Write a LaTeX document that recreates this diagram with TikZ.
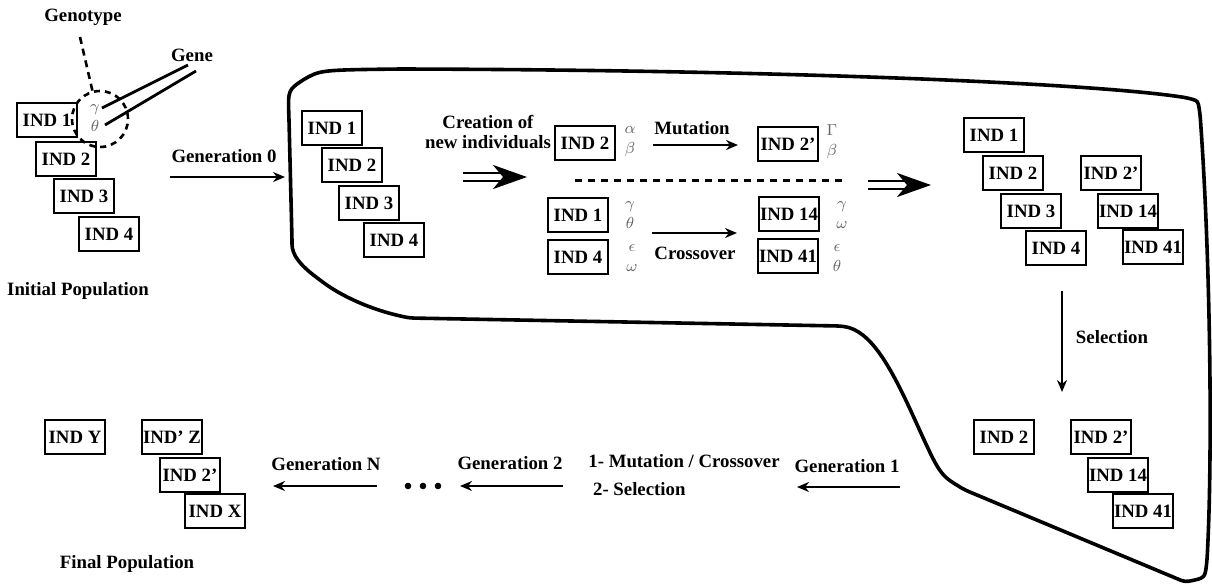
\documentclass[tikz,border=0pt]{standalone}
\usepackage{fontspec}
\setmainfont{Liberation Serif}
\usepackage{tikz}
\usetikzlibrary{arrows.meta}

\tikzset{
  every node/.style={font=\fontsize{9.4}{10}\selectfont\bfseries, inner sep=1pt},
  ind/.style={draw, line width=1pt, minimum width=30pt, minimum height=17pt, inner sep=0.5pt},
  greek/.style={text=gray!80!black, font=\fontsize{8.5}{10}\selectfont, align=center, inner sep=0pt},
  arr/.style={line width=1.4pt, -{Stealth[length=6pt,width=5pt]}},
  dblarr/.style={double, double distance=2.6pt, line width=1.3pt, -{Stealth[length=17pt,width=12pt,inset=5pt]}},
  blob/.style={line width=1.8pt, rounded corners=2pt}
}

\begin{document}
\begin{tikzpicture}[x=0.5pt, y=-0.5pt]
 \useasboundingbox (0,0) rectangle (1212,585);

 % outline of one generation
 \draw[blob] (303,80) .. controls (320,70) .. (400,69) .. controls (800,70) and (1100,84) .. (1188,98)
   .. controls (1198,101) .. (1200,114) .. controls (1210,250) and (1213,450) .. (1207,560)
   .. controls (1205,578) .. (1185,582) -- (965,490) .. controls (940,475) .. (915,420)
   .. controls (890,365) and (870,330) .. (840,326) -- (410,318)
   .. controls (370,310) and (340,295) .. (320,280) .. controls (300,265) and (292,255) .. (292,240)
   -- (289,120) .. controls (288,90) .. (303,80);

 % initial population
 \node[ind] (p0i1) at (47,120) {IND 1};
 \node[ind] (p0i2) at (66,159) {IND 2};
 \node[ind] (p0i3) at (84,196) {IND 3};
 \node[ind] (p0i4) at (109,234) {IND 4};
 \node[greek] (p0g) at (95,118) {$\gamma$\\$\theta$};
 \node[draw, circle, line width=1.3pt, dash pattern=on 3pt off 2.5pt, minimum size=28pt] (gtype) at (100,119) {};
 \node (genotype) at (83,17) {Genotype};
 \node (gene) at (192,55) {Gene};
 \node (initpop) at (78,291) {Initial Population};
 \coordinate (gt) at (80,37);
 \coordinate (ga1) at (102,108); \coordinate (gb1) at (188,65);
 \coordinate (ga2) at (105,125); \coordinate (gb2) at (196,71);
 \draw[line width=1.3pt, dash pattern=on 3.5pt off 2.5pt] (gt) -- (gtype.105);
 \draw[line width=1.4pt] (ga1) -- (gb1);
 \draw[line width=1.4pt] (ga2) -- (gb2);

 \node (gen0) at (224,156) {Generation 0};
 \coordinate (g0a) at (170,177); \coordinate (g0b) at (285,177);
 \draw[arr] (g0a) -- (g0b);

 % parents
 \node[ind] (p1i1) at (332,128) {IND 1};
 \node[ind] (p1i2) at (352,165) {IND 2};
 \node[ind] (p1i3) at (369,203) {IND 3};
 \node[ind] (p1i4) at (394,240) {IND 4};

 \node[align=center] (creation) at (488,132) {Creation of\\new individuals};
 \coordinate (d1a) at (463,177); \coordinate (d1b) at (527,177);
 \draw[dblarr] (d1a) -- (d1b);

 % mutation
 \node[ind] (mi2) at (585,143) {IND 2};
 \node[greek] (mg1) at (630,142) {$\alpha$\\$\beta$};
 \node[ind] (mi2b) at (788,144) {IND 2’};
 \node[greek] (mg2) at (832,142) {$\Gamma$\\$\beta$};
 \node (mutation) at (692,128) {Mutation};
 \coordinate (ma) at (653,145); \coordinate (mb) at (738,145);
 \draw[arr] (ma) -- (mb);

 \coordinate (sepa) at (575,180); \coordinate (sepb) at (843,180);
 \draw[line width=1.5pt, dash pattern=on 3.5pt off 3pt] (sepa) -- (sepb);

 % crossover
 \node[ind] (ci1) at (578,215) {IND 1};
 \node[greek] (cg1) at (630,215) {$\gamma$\\$\theta$};
 \node[ind] (ci4) at (578,257) {IND 4};
 \node[greek] (cg4) at (632,258) {$\epsilon$\\$\omega$};
 \node[ind] (ci14) at (789,214) {IND 14};
 \node[greek] (cg14) at (842,215) {$\gamma$\\$\omega$};
 \node[ind] (ci41) at (788,256) {IND 41};
 \node[greek] (cg41) at (837,258) {$\epsilon$\\$\theta$};
 \node (crossover) at (695,253) {Crossover};
 \coordinate (ca) at (652,233); \coordinate (cb) at (737,233);
 \draw[arr] (ca) -- (cb);

 \coordinate (d2a) at (868,185); \coordinate (d2b) at (931,185);
 \draw[dblarr] (d2a) -- (d2b);

 % parents and children
 \node[ind] (p2i1) at (994,135) {IND 1};
 \node[ind] (p2i2) at (1013,173) {IND 2};
 \node[ind] (p2i3) at (1031,211) {IND 3};
 \node[ind] (p2i4) at (1056,248) {IND 4};
 \node[ind] (p2i2b) at (1111,173) {IND 2’};
 \node[ind] (p2i14) at (1128,211) {IND 14};
 \node[ind] (p2i41) at (1153,247) {IND 41};

 \node (selection) at (1112,337) {Selection};
 \coordinate (sa) at (1062,291); \coordinate (sb) at (1062,392);
 \draw[arr] (sa) -- (sb);

 % selected
 \node[ind] (p3i2) at (1004,437) {IND 2};
 \node[ind] (p3i2b) at (1101,437) {IND 2’};
 \node[ind] (p3i14) at (1118,475) {IND 14};
 \node[ind] (p3i41) at (1143,511) {IND 41};

 % next generations
 \node (gen1) at (847,466) {Generation 1};
 \coordinate (g1a) at (900,487); \coordinate (g1b) at (797,487);
 \draw[arr] (g1a) -- (g1b);
 \node[anchor=west, align=left, font=\fontsize{9.4}{14}\selectfont\bfseries] (steps) at (586,475) {1- Mutation / Crossover\\\ 2- Selection};
 \node (gen2) at (510,463) {Generation 2};
 \coordinate (g2a) at (563,486); \coordinate (g2b) at (460,486);
 \draw[arr] (g2a) -- (g2b);
 \foreach \x in {408,423,438} \fill (\x,486) circle (3.3);
 \node (genN) at (326,464) {Generation N};
 \coordinate (gNa) at (377,486); \coordinate (gNb) at (273,486);
 \draw[arr] (gNa) -- (gNb);

 % final population
 \node[ind] (pfy) at (75,437) {IND Y};
 \node[ind] (pfz) at (172,437) {IND’ Z};
 \node[ind] (pf2) at (190,475) {IND 2’};
 \node[ind] (pfx) at (215,511) {IND X};
 \node (finalpop) at (127,564) {Final Population};
\end{tikzpicture}
\end{document}
